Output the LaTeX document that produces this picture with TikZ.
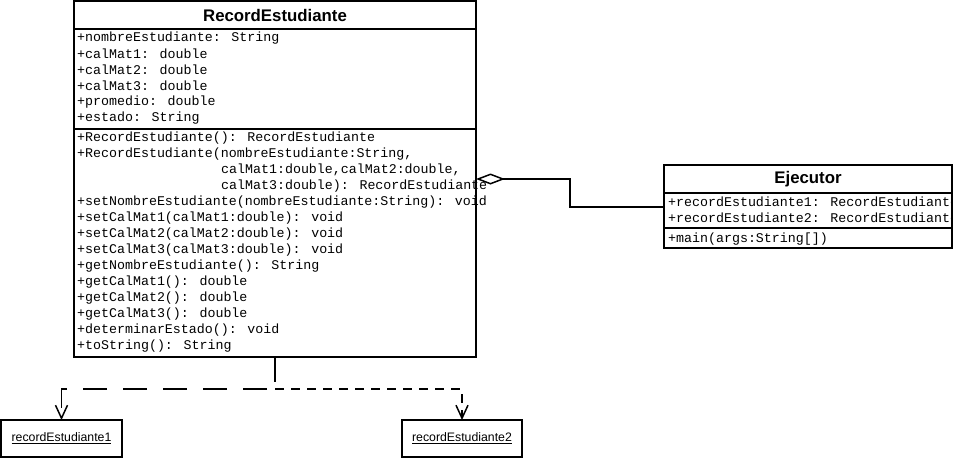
\documentclass[tikz,border=0pt]{standalone}
\usepackage{fontspec}
\setmainfont{Liberation Sans}
\newfontfamily\monof{Liberation Mono}
\usetikzlibrary{arrows.meta}
\begin{document}
\begin{tikzpicture}[x=1pt,y=-1pt,
  box/.style={draw, line width=1.6pt, inner sep=0pt, outer sep=0pt, anchor=north west},
  sepline/.style={line width=1.2pt},
  mem/.style={anchor=west, inner sep=0pt, font=\monof\fontsize{13.3}{14}\selectfont},
  ttl/.style={inner sep=0pt, font=\bfseries\fontsize{16.8}{18}\selectfont},
  obj/.style={box, font=\fontsize{12.3}{14}\selectfont},
  agg/.style={line width=1.6pt, {Diamond[open,length=29pt,width=11pt,line width=1.5pt]}-},
  depA/.style={line width=1.6pt, dash pattern=on 24pt off 16pt, -{Straight Barb[length=13pt,width=12pt,line width=1.5pt]}},
  depB/.style={line width=1.6pt, dash pattern=on 9pt off 7pt, -{Straight Barb[length=13pt,width=12pt,line width=1.5pt]}}
]
\useasboundingbox (0,0) rectangle (953,458);
\fill[white] (0,0) rectangle (953,458);

% --- RecordEstudiante text
\node[ttl] (t1) at (275,15) {RecordEstudiante};
\foreach \yy/\tx in {38/{+nombreEstudiante: String},54/{+calMat1: double},70/{+calMat2: double},86/{+calMat3: double},102/{+promedio: double},118/{+estado: String},
  138/{+RecordEstudiante(): RecordEstudiante},154/{+RecordEstudiante(nombreEstudiante:String,},
  202/{+setNombreEstudiante(nombreEstudiante:String): void},218/{+setCalMat1(calMat1:double): void},234/{+setCalMat2(calMat2:double): void},250/{+setCalMat3(calMat3:double): void},
  266/{+getNombreEstudiante(): String},282/{+getCalMat1(): double},298/{+getCalMat2(): double},314/{+getCalMat3(): double},330/{+determinarEstado(): void},346/{+toString(): String}}
  \node[mem] at (77,\yy) {\tx};
\node[mem] (c1) at (221,170) {calMat1:double,calMat2:double,};
\node[mem] (c2) at (221,186) {calMat3:double): RecordEstudiante};
\node[box, minimum width=402pt, minimum height=356pt] (rec) at (74,1) {};
\draw[sepline] (74,29) -- (476,29);
\draw[sepline] (74,129) -- (476,129);

% --- Ejecutor
\node[ttl] (t2) at (808,179) {Ejecutor};
\node[mem] (e1) at (668,202) {+recordEstudiante1: RecordEstudiante};
\node[mem] (e2) at (668,218) {+recordEstudiante2: RecordEstudiante};
\node[mem] (e3) at (668,239) {+main(args:String[])};
\node[box, minimum width=288pt, minimum height=83pt] (ej) at (664,165) {};
\draw[sepline] (664,193) -- (952,193);
\draw[sepline] (664,228) -- (952,228);

% --- objects
\node[obj, minimum width=121pt, minimum height=37pt] (o1) at (1,420) {\underline{recordEstudiante1}};
\node[obj, minimum width=120pt, minimum height=37pt] (o2) at (402,420) {\underline{recordEstudiante2}};

% --- connectors
\draw[agg] (rec.east |- 0,179) -- (570,179) -- (570,207) -- (ej.west |- 0,207);
\draw[depA] (rec.south) -- (275,389) -| (o1.north);
\draw[depB] (rec.south) -- (275,389) -| (o2.north);
\end{tikzpicture}
\end{document}
